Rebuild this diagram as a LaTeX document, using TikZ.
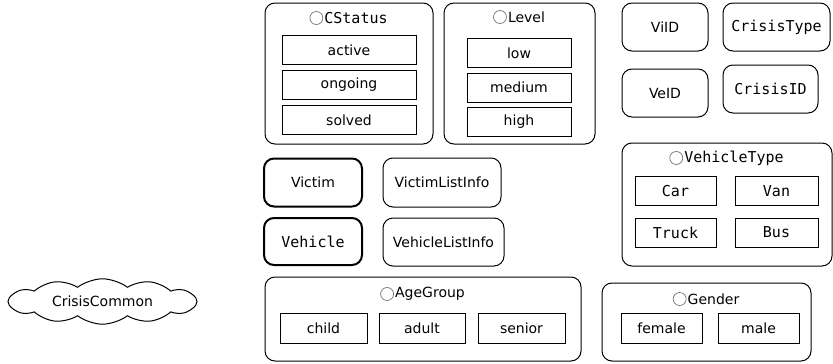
\documentclass[tikz,border=0pt]{standalone}
\usepackage{fontspec}
\setmainfont{DejaVu Sans}
\newfontfamily\codefont{DejaVu Sans Mono}
\usetikzlibrary{positioning, shapes.symbols}

\begin{document}
\begin{tikzpicture}[
	x = 1pt, y = -1pt,
	every node/.style = {font=\fontsize{14}{17}\selectfont},
	code/.style = {font=\codefont\fontsize{15}{17}\selectfont},
	enum/.style = {draw, rounded corners=10pt, line width=1pt, inner sep=0pt},
	literal/.style = {draw, line width=1pt, minimum width=#1, minimum height=29pt, inner sep=0pt},
	literal/.default = 86pt,
	datatype/.style = {draw, rounded corners=10pt, line width=1pt, minimum height=48pt, inner sep=0pt},
	class/.style = {draw, rounded corners=10pt, line width=2pt, minimum width=98pt, minimum height=48pt, inner sep=0pt},
	title/.style = {inner sep=0pt, xshift=7pt},
	dot/.style = {circle, draw=black!55, line width=0.7pt, minimum size=13pt, inner sep=0pt},
	node distance = 1pt
]

\useasboundingbox (0, 0) rectangle (833, 364);

\node[enum, minimum width=168pt, minimum height=141pt] (cstatus) at (349, 73.5) {};
\node[title, code] (cstatus title) at (349, 18) {CStatus};
\node[dot, left=of cstatus title] {};
\foreach \lit [count=\i] in {active, ongoing, solved} {
	\node[literal=134pt] (\lit) at (349, 15+35*\i) {\lit};
}

\node[enum, minimum width=151pt, minimum height=141pt] (level) at (519.5, 73.5) {};
\node[title] (level title) at (519.5, 17) {Level};
\node[dot, left=of level title] {};
\foreach \lit [count=\i] in {low, medium, high} {
	\node[literal=104pt] (\lit) at (519, 18.5+34.5*\i) {\lit};
}

\node[datatype, minimum width=86pt] (viid) at (665, 27) {ViID};
\node[datatype, code, minimum width=107pt] (crisistype) at (776.5, 27) {CrisisType};
\node[datatype, minimum width=86pt] (veid) at (665, 93) {VeID};
\node[datatype, code, minimum width=95pt] (crisisid) at (770.5, 89) {CrisisID};

\node[class] (victim) at (313, 182.5) {Victim};
\node[class, code, minimum height=47pt] (vehicle) at (313, 241.5) {Vehicle};
\node[datatype, minimum width=118pt, minimum height=49pt] (victimlistinfo) at (442, 182.5) {VictimListInfo};
\node[datatype, minimum width=121pt] (vehiclelistinfo) at (443.5, 242) {VehicleListInfo};

\node[enum, minimum width=210pt, minimum height=123pt] (vehicletype) at (727, 204.5) {};
\node[title, code] (vehicletype title) at (727, 158) {VehicleType};
\node[dot, left=of vehicletype title] {};
\node[literal=81pt, code] (car) at (675.5, 191) {Car};
\node[literal=83pt, code] (van) at (776.5, 191) {Van};
\node[literal=81pt, code] (truck) at (675.5, 232.5) {Truck};
\node[literal=83pt, code] (bus) at (776.5, 232.5) {Bus};

\node[enum, minimum width=316pt, minimum height=84pt] (agegroup) at (423, 319) {};
\node[title] (agegroup title) at (423, 294) {AgeGroup};
\node[dot, left=of agegroup title] {};
\node[literal=87pt, minimum height=30pt] (child) at (323.5, 328) {child};
\node[literal=86pt, minimum height=30pt] (adult) at (422, 328) {adult};
\node[literal=87pt, minimum height=30pt] (senior) at (521.5, 328) {senior};

\node[enum, minimum width=209pt, minimum height=78pt] (gender) at (706.5, 322) {};
\node[title] (gender title) at (706.5, 299) {Gender};
\node[dot, left=of gender title] {};
\node[literal=81pt, minimum height=30pt] (female) at (661.5, 328) {female};
\node[literal=81pt, minimum height=30pt] (male) at (758.5, 328) {male};

\node[cloud, draw, line width=1pt, cloud puffs=12, cloud puff arc=75, aspect=4.2,
	minimum width=189pt, minimum height=45pt, inner sep=0pt] (crisiscommon) at (102.5, 301.5) {CrisisCommon};

\end{tikzpicture}
\end{document}
